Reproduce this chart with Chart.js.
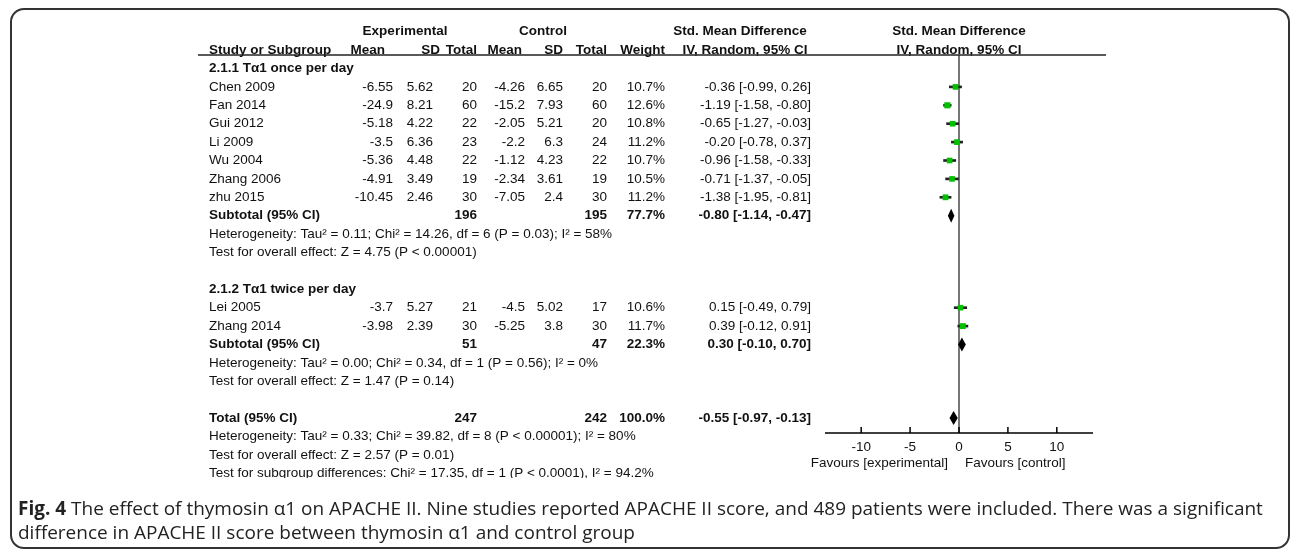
<!DOCTYPE html>
<html>
<head>
<meta charset="utf-8">
<script src="https://cdn.jsdelivr.net/npm/chart.js@4.4.0/dist/chart.umd.min.js"></script>
<style>
  html, body { margin: 0; padding: 0; background: #fff; }
  #wrap { position: relative; width: 1292px; height: 553px; overflow: hidden; }
  #frame {
    position: absolute; left: 10px; top: 8px; width: 1276px; height: 537px;
    border: 2px solid #333; border-radius: 14px;
  }
  #forest { position: absolute; left: 0; top: 0; }
  #caption {
    position: absolute; left: 18px; top: 496px; white-space: nowrap;
    font-family: "Open Sans", sans-serif; font-size: 16.5px; line-height: 24px; color: #222;
  }
</style>
</head>
<body>
<div id="wrap">
  <div id="frame"></div>
  <canvas id="forest" width="1292" height="553"></canvas>
  <div id="caption"><span id="cap1"><b>Fig. 4</b> The effect of thymosin α1 on APACHE II. Nine studies reported APACHE II score, and 489 patients were included. There was a significant</span><br>difference in APACHE II score between thymosin α1 and control group</div>
</div>
<script>
// ---- data ----
const studyNames = ["Chen 2009", "Fan 2014", "Gui 2012", "Li 2009", "Wu 2004", "Zhang 2006", "zhu 2015", "Lei 2005", "Zhang 2014"];
const expMean = [-6.55, -24.9, -5.18, -3.5, -5.36, -4.91, -10.45, -3.7, -3.98];
const expSD = [5.62, 8.21, 4.22, 6.36, 4.48, 3.49, 2.46, 5.27, 2.39];
const expN = [20, 60, 22, 23, 22, 19, 30, 21, 30];
const ctlMean = [-4.26, -15.2, -2.05, -2.2, -1.12, -2.34, -7.05, -4.5, -5.25];
const ctlSD = [6.65, 7.93, 5.21, 6.3, 4.23, 3.61, 2.4, 5.02, 3.8];
const ctlN = [20, 60, 20, 24, 22, 19, 30, 17, 30];
const weights = [10.7, 12.6, 10.8, 11.2, 10.7, 10.5, 11.2, 10.6, 11.7];
const smd = [-0.36, -1.19, -0.65, -0.20, -0.96, -0.71, -1.38, 0.15, 0.39];
const ciLow = [-0.99, -1.58, -1.27, -0.78, -1.58, -1.37, -1.95, -0.49, -0.12];
const ciHigh = [0.26, -0.80, -0.03, 0.37, -0.33, -0.05, -0.81, 0.79, 0.91];

const groupTitles = ["2.1.1 Tα1 once per day", "2.1.2 Tα1 twice per day"];
const groupStudies = [[0, 1, 2, 3, 4, 5, 6], [7, 8]];
const subExpN = [196, 51];
const subCtlN = [195, 47];
const subWeight = [77.7, 22.3];
const subSmd = [-0.80, 0.30];
const subLow = [-1.14, -0.10];
const subHigh = [-0.47, 0.70];
const subHetero = [
  "Heterogeneity: Tau² = 0.11; Chi² = 14.26, df = 6 (P = 0.03); I² = 58%",
  "Heterogeneity: Tau² = 0.00; Chi² = 0.34, df = 1 (P = 0.56); I² = 0%"
];
const subOverall = [
  "Test for overall effect: Z = 4.75 (P < 0.00001)",
  "Test for overall effect: Z = 1.47 (P = 0.14)"
];

const totalExpN = 247, totalCtlN = 242, totalWeight = 100.0;
const totalSmd = -0.55, totalLow = -0.97, totalHigh = -0.13;
const totalNotes = [
  "Heterogeneity: Tau² = 0.33; Chi² = 39.82, df = 8 (P < 0.00001); I² = 80%",
  "Test for overall effect: Z = 2.57 (P = 0.01)",
  "Test for subgroup differences: Chi² = 17.35, df = 1 (P < 0.0001), I² = 94.2%"
];

const xTicks = [-10, -5, 0, 5, 10];
const favourLabels = ["Favours [experimental]", "Favours [control]"];

// ---- layout ----
const ROW0 = 68.5, PITCH = 18.4;           // y of first table row, row pitch
const PLOT = { left: 825, right: 1093, top: 55, bottom: 433 };
const FONT = '"Liberation Sans", Arial, sans-serif';
const TXT = 13.5;

// rows: r index for each table line
const rows = [];
const studyRow = [];
const subRow = [];
let r = 0;
groupStudies.forEach((ids, g) => {
  rows.push({ kind: "group", g, r: r++ });
  ids.forEach(i => { studyRow[i] = r; rows.push({ kind: "study", i, r: r++ }); });
  subRow[g] = r;
  rows.push({ kind: "sub", g, r: r++ });
  rows.push({ kind: "note", text: subHetero[g], r: r++ });
  rows.push({ kind: "note", text: subOverall[g], r: r++ });
  r++;
});
const totalRow = r;
rows.push({ kind: "total", r: r++ });
totalNotes.forEach(t => rows.push({ kind: "note", text: t, r: r++ }));
const lastRow = r - 1;

const fmt2 = v => v.toFixed(2);
const ciText = (m, lo, hi) => fmt2(m) + " [" + fmt2(lo) + ", " + fmt2(hi) + "]";

// columns (right edges, study column left edge)
const COL = { study: 209, eMean: 393, eSD: 433, eN: 477, cMean: 525, cSD: 563, cN: 607, wt: 665, ci: 811 };

const forestPlugin = {
  id: "forest",
  beforeDatasetsDraw(chart) {
    // line of no effect
    const { ctx, scales: { x }, chartArea } = chart;
    const zx = x.getPixelForValue(0);
    ctx.save();
    ctx.strokeStyle = "#777";
    ctx.lineWidth = 2;
    ctx.beginPath();
    ctx.moveTo(zx, chartArea.top);
    ctx.lineTo(zx, chartArea.bottom);
    ctx.stroke();
    ctx.restore();
  },
  afterDraw(chart) {
    const { ctx, scales: { x, y }, chartArea } = chart;
    const rowY = rr => y.getPixelForValue(rr);
    const txt = (s, px, rr, align, bold) => {
      ctx.font = (bold ? "bold " : "") + TXT + "px " + FONT;
      ctx.textAlign = align || "left";
      ctx.textBaseline = "middle";
      ctx.fillStyle = "#111";
      ctx.fillText(s, px, rowY(rr));
    };
    ctx.save();

    // headers
    const zx = x.getPixelForValue(0);
    txt("Experimental", 405, -2, "center", true);
    txt("Control", 543, -2, "center", true);
    txt("Std. Mean Difference", 740, -2, "center", true);
    txt("Std. Mean Difference", zx, -2, "center", true);
    txt("Study or Subgroup", COL.study, -1, "left", true);
    txt("Mean", 385, -1, "right", true);
    txt("SD", 440, -1, "right", true);
    txt("Total", 477, -1, "right", true);
    txt("Mean", 522, -1, "right", true);
    txt("SD", 563, -1, "right", true);
    txt("Total", 607, -1, "right", true);
    txt("Weight", 665, -1, "right", true);
    txt("IV, Random, 95% CI", 745, -1, "center", true);
    txt("IV, Random, 95% CI", zx, -1, "center", true);

    // header rule
    ctx.strokeStyle = "#222";
    ctx.lineWidth = 1.5;
    ctx.beginPath();
    ctx.moveTo(198, chartArea.top);
    ctx.lineTo(1106, chartArea.top);
    ctx.stroke();

    rows.forEach(row => {
      if (row.r === lastRow) {
        // the source image is cut just under this line
        ctx.save();
        ctx.beginPath();
        ctx.rect(0, 0, chart.width, 478);
        ctx.clip();
      }
      if (row.kind === "group") {
        txt(groupTitles[row.g], COL.study, row.r, "left", true);
      } else if (row.kind === "study") {
        const i = row.i;
        txt(studyNames[i], COL.study, row.r);
        txt(String(expMean[i]), COL.eMean, row.r, "right");
        txt(String(expSD[i]), COL.eSD, row.r, "right");
        txt(String(expN[i]), COL.eN, row.r, "right");
        txt(String(ctlMean[i]), COL.cMean, row.r, "right");
        txt(String(ctlSD[i]), COL.cSD, row.r, "right");
        txt(String(ctlN[i]), COL.cN, row.r, "right");
        txt(weights[i].toFixed(1) + "%", COL.wt, row.r, "right");
        txt(ciText(smd[i], ciLow[i], ciHigh[i]), COL.ci, row.r, "right");
      } else if (row.kind === "sub") {
        const g = row.g;
        txt("Subtotal (95% CI)", COL.study, row.r, "left", true);
        txt(String(subExpN[g]), COL.eN, row.r, "right", true);
        txt(String(subCtlN[g]), COL.cN, row.r, "right", true);
        txt(subWeight[g].toFixed(1) + "%", COL.wt, row.r, "right", true);
        txt(ciText(subSmd[g], subLow[g], subHigh[g]), COL.ci, row.r, "right", true);
      } else if (row.kind === "total") {
        txt("Total (95% CI)", COL.study, row.r, "left", true);
        txt(String(totalExpN), COL.eN, row.r, "right", true);
        txt(String(totalCtlN), COL.cN, row.r, "right", true);
        txt(totalWeight.toFixed(1) + "%", COL.wt, row.r, "right", true);
        txt(ciText(totalSmd, totalLow, totalHigh), COL.ci, row.r, "right", true);
      } else if (row.kind === "note") {
        txt(row.text, COL.study, row.r);
      }
      if (row.r === lastRow) ctx.restore();
    });

    // diamonds for pooled estimates
    const diamond = (m, lo, hi, rr) => {
      const cy = rowY(rr);
      ctx.fillStyle = "#000";
      ctx.beginPath();
      ctx.moveTo(x.getPixelForValue(lo), cy);
      ctx.lineTo(x.getPixelForValue(m), cy - 7);
      ctx.lineTo(x.getPixelForValue(hi), cy);
      ctx.lineTo(x.getPixelForValue(m), cy + 7);
      ctx.closePath();
      ctx.fill();
    };
    subSmd.forEach((m, g) => diamond(m, subLow[g], subHigh[g], subRow[g]));
    diamond(totalSmd, totalLow, totalHigh, totalRow);

    // x axis with upward ticks
    const ay = chartArea.bottom;
    ctx.strokeStyle = "#000";
    ctx.lineWidth = 1.5;
    ctx.beginPath();
    ctx.moveTo(chartArea.left, ay);
    ctx.lineTo(chartArea.right, ay);
    xTicks.forEach(t => {
      const px = x.getPixelForValue(t);
      ctx.moveTo(px, ay);
      ctx.lineTo(px, ay - 6);
    });
    ctx.stroke();
    ctx.font = TXT + "px " + FONT;
    ctx.fillStyle = "#111";
    ctx.textAlign = "center";
    ctx.textBaseline = "middle";
    xTicks.forEach(t => ctx.fillText(String(t), x.getPixelForValue(t), ay + 14));
    ctx.textAlign = "right";
    ctx.fillText(favourLabels[0], zx - 11, ay + 30);
    ctx.textAlign = "left";
    ctx.fillText(favourLabels[1], zx + 6, ay + 30);

    ctx.restore();
  }
};

new Chart(document.getElementById("forest"), {
  type: "scatter",
  data: {
    datasets: [
      {
        type: "bar",
        indexAxis: "y",
        data: smd.map((m, i) => ({ x: [ciLow[i], ciHigh[i]], y: studyRow[i] })),
        backgroundColor: "#222",
        barThickness: 2,
        order: 2
      },
      {
        type: "scatter",
        data: smd.map((m, i) => ({ x: m, y: studyRow[i] })),
        pointStyle: "rect",
        pointRadius: weights.map(w => 1.22 * Math.sqrt(w)),
        backgroundColor: "#00c000",
        borderWidth: 0,
        order: 1
      }
    ]
  },
  options: {
    responsive: false,
    animation: false,
    devicePixelRatio: 1,
    layout: {
      padding: { left: PLOT.left, right: 1292 - PLOT.right, top: PLOT.top, bottom: 553 - PLOT.bottom }
    },
    plugins: { legend: { display: false }, tooltip: { enabled: false } },
    scales: {
      x: { type: "linear", min: -13.7, max: 13.7, offset: false, display: false },
      y: {
        type: "linear", reverse: true, display: false, offset: false,
        min: (PLOT.top - ROW0) / PITCH,
        max: (PLOT.bottom - ROW0) / PITCH
      }
    }
  },
  plugins: [forestPlugin]
});

// fit the caption's first line to the width it has in the figure
const cap = document.getElementById("caption");
const w1 = document.getElementById("cap1").getBoundingClientRect().width;
cap.style.fontSize = (16.5 * 1245 / w1).toFixed(2) + "px";
</script>
</body>
</html>
